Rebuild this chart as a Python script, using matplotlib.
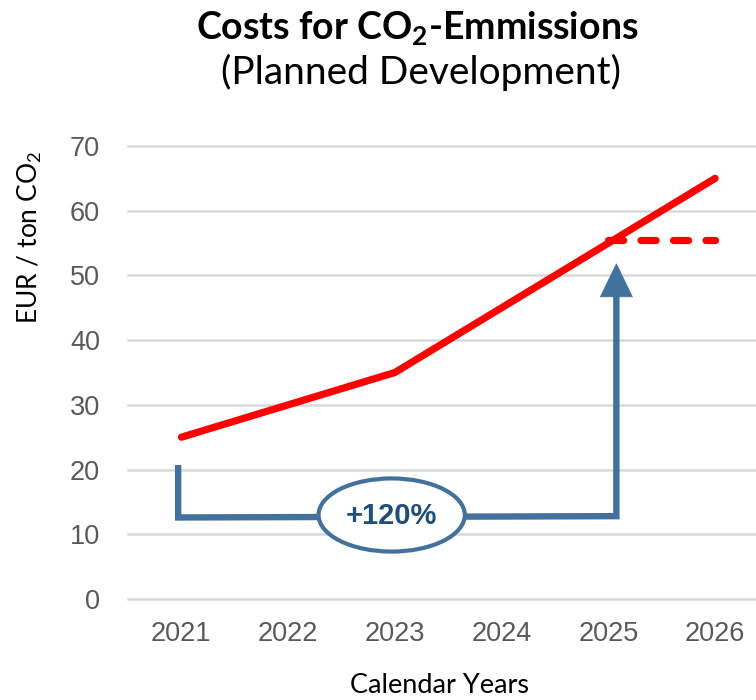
import matplotlib
matplotlib.use("Agg")
import matplotlib.pyplot as plt
from matplotlib.patches import Ellipse, Polygon

plt.rcParams['mathtext.default'] = 'regular'

# ---- data ----
years = ["2021", "2022", "2023", "2024", "2025", "2026"]
costs = [25, 30, 35, 45, 55, 65]
target_years = ["2025", "2026"]
target_costs = [55.5, 55.5]
yticks = [0, 10, 20, 30, 40, 50, 60, 70]
increase_label = "+120%"

RED = "#FF0000"
BLUE = "#41719C"
DARKBLUE = "#1F4E79"
GRID = "#D9D9D9"
TICK = "#595959"

W, H = 756, 700
fig = plt.figure(figsize=(W / 100, H / 100), dpi=100)
fig.patch.set_facecolor("white")

# axes placement in pixels
left_px, right_px, bottom_px, top_px = 128, 768.5, 599, 146
ax = fig.add_axes([left_px / W, 1 - bottom_px / H,
                   (right_px - left_px) / W, (bottom_px - top_px) / H])

xidx = list(range(len(years)))
ax.plot(xidx, costs, color=RED, lw=5.2, solid_capstyle="round",
        solid_joinstyle="round", zorder=3)
t_idx = [years.index(y) for y in target_years]
ax.plot(t_idx, target_costs, color=RED, lw=5.2, dash_capstyle="round",
        dashes=(2.1, 2.4), zorder=3)

ax.set_xlim(-0.5, len(years) - 0.5)
ax.set_ylim(0, 70)
ax.set_xticks(xidx)
ax.set_xticklabels(years)
ax.set_yticks(yticks)
ax.tick_params(axis="both", length=0, labelsize=19.5, labelcolor=TICK)
ax.tick_params(axis="y", pad=20)
ax.tick_params(axis="x", pad=16)
for lab in ax.get_xticklabels() + ax.get_yticklabels():
    lab.set_fontfamily("Liberation Sans")
for s in ax.spines.values():
    s.set_visible(False)
ax.yaxis.grid(True, color=GRID, lw=1.8)
ax.set_axisbelow(True)
for gl in ax.get_ygridlines():
    gl.set_clip_on(False)

# ---- annotation: bracket arrow ----
x_left, x_right = -0.03, 4.075
y_top_left, y_bottom_left, y_bottom_right = 20.7, 12.6, 12.8
head_base, head_tip, head_half = 46.7, 51.8, 0.15
ax.plot([x_left, x_left, x_right, x_right],
        [y_top_left, y_bottom_left, y_bottom_right, head_base + 0.3],
        color=BLUE, lw=4.6, solid_joinstyle="miter", solid_capstyle="butt",
        zorder=4)
ax.add_patch(Polygon([[x_right - head_half, head_base],
                      [x_right + head_half, head_base],
                      [x_right, head_tip]], closed=True,
                     facecolor=BLUE, edgecolor=BLUE, lw=0.5, zorder=5))
ax.add_patch(Ellipse((1.97, 12.98), 1.37, 11.3, facecolor="white",
                     edgecolor=BLUE, lw=3.0, zorder=6))
ax.text(1.97, 12.9, increase_label, ha="center", va="center",
        fontsize=21, fontweight="bold", color=DARKBLUE,
        family="Liberation Sans", zorder=7)

# ---- titles & labels ----
fig.text(417 / W, 1 - 39 / H, "Costs for CO$_2$-Emmissions", ha="center",
         va="baseline", fontsize=27, fontweight="bold", family="Lato")
fig.text(421 / W, 1 - 84 / H, "(Planned Development)", ha="center",
         va="baseline", fontsize=28, family="Lato")
fig.text(440 / W, 1 - 693 / H, "Calendar Years", ha="center",
         va="baseline", fontsize=19.5, family="Lato")
fig.text(30 / W, 1 - 237 / H, "EUR / ton CO$_2$", ha="center",
         va="center", rotation=90, fontsize=19, family="Lato")

fig.savefig("out.png", dpi=100)
